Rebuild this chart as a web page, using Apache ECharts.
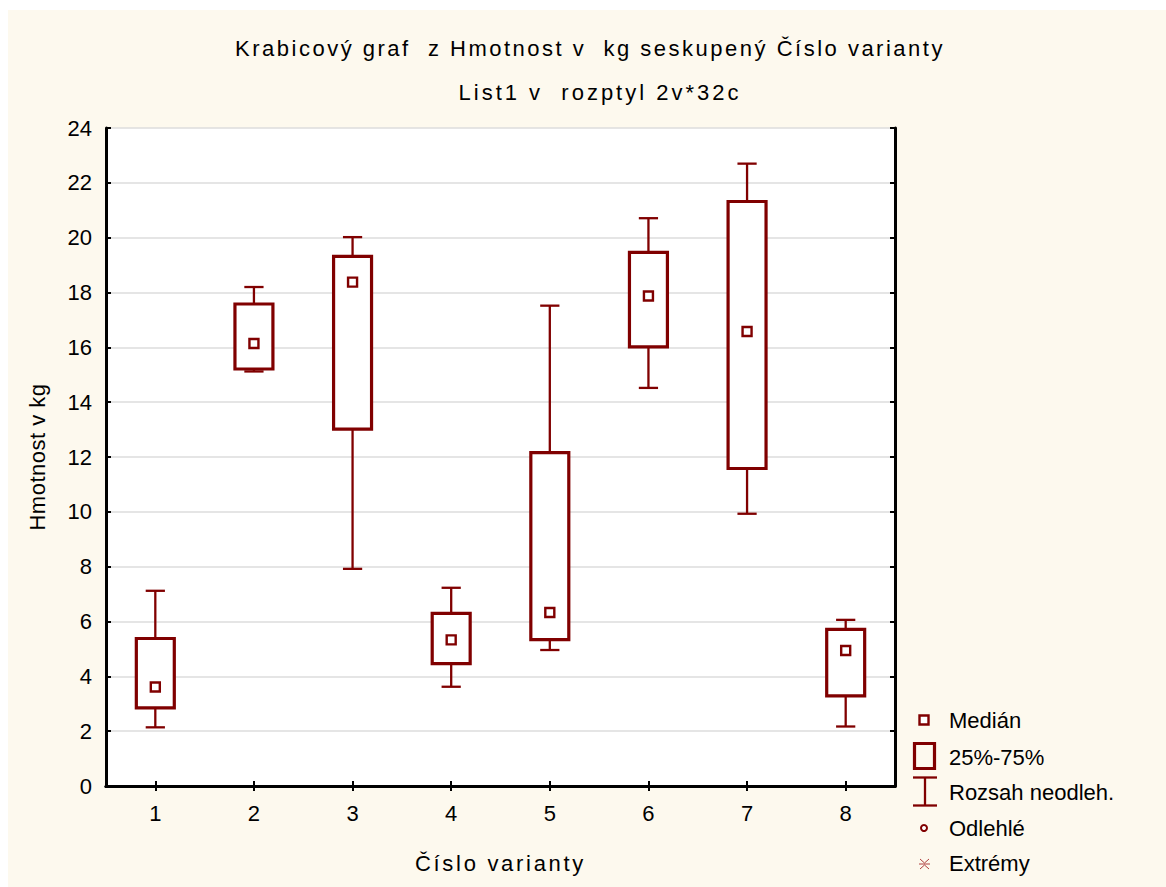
<!DOCTYPE html>
<html>
<head>
<meta charset="utf-8">
<script src="https://cdn.jsdelivr.net/npm/echarts@6/dist/echarts.min.js"></script>
<style>
html,body{margin:0;padding:0;background:#ffffff;}
#chart{width:1166px;height:887px;}
</style>
</head>
<body>
<div id="chart"></div>
<script>
// ---- data ----
const categories = ['1', '2', '3', '4', '5', '6', '7', '8'];
const whiskerMin = [2.14, 15.12, 7.92, 3.62, 4.96, 14.52, 9.93, 2.17];
const quartile1 = [2.85, 15.21, 13.02, 4.46, 5.34, 16.02, 11.58, 3.29];
const medians   = [3.61, 16.14, 18.38, 5.33, 6.33, 17.87, 16.58, 4.94];
const quartile3 = [5.38, 17.58, 19.32, 6.30, 12.16, 19.46, 21.32, 5.71];
const whiskerMax = [7.12, 18.20, 20.02, 7.23, 17.52, 20.71, 22.70, 6.06];
const yTicks = [0, 2, 4, 6, 8, 10, 12, 14, 16, 18, 20, 22, 24];
const titleText = 'Krabicový graf  z Hmotnost v  kg seskupený Číslo varianty';
const subtitleText = 'List1 v  rozptyl 2v*32c';
const xName = 'Číslo varianty';
const yName = 'Hmotnost v kg';
const legendNames = ['Medián', '25%-75%', 'Rozsah neodleh.', 'Odlehlé', 'Extrémy'];

const RED = '#800000';
const FONT = 'Liberation Sans, Arial, sans-serif';

const boxData = categories.map((c, i) => [i, whiskerMin[i], quartile1[i], medians[i], quartile3[i], whiskerMax[i]]);

function renderBox(params, api) {
  const idx = api.value(0);
  const x = api.coord([idx, 0])[0];
  const band = api.size([1, 0])[0];
  const bw = band * 0.385;
  const cw = band * 0.195;
  const yMin = api.coord([idx, api.value(1)])[1];
  const yQ1 = api.coord([idx, api.value(2)])[1];
  const yMed = api.coord([idx, api.value(3)])[1];
  const yQ3 = api.coord([idx, api.value(4)])[1];
  const yMax = api.coord([idx, api.value(5)])[1];
  const lw = {stroke: RED, lineWidth: 2.3, fill: null};
  const sq = 9;
  return {
    type: 'group',
    children: [
      {type: 'line', shape: {x1: x, y1: yMax, x2: x, y2: yQ3}, style: lw},
      {type: 'line', shape: {x1: x, y1: yQ1, x2: x, y2: yMin}, style: lw},
      {type: 'line', shape: {x1: x - cw / 2, y1: yMax, x2: x + cw / 2, y2: yMax}, style: lw},
      {type: 'line', shape: {x1: x - cw / 2, y1: yMin, x2: x + cw / 2, y2: yMin}, style: lw},
      {type: 'rect', shape: {x: x - bw / 2, y: yQ3, width: bw, height: yQ1 - yQ3}, style: {stroke: RED, lineWidth: 3.2, fill: '#ffffff'}},
      {type: 'rect', shape: {x: x - sq / 2, y: yMed - sq / 2, width: sq, height: sq}, style: {stroke: RED, lineWidth: 2.4, fill: '#ffffff'}}
    ]
  };
}

const chart = echarts.init(document.getElementById('chart'), null, {renderer: 'svg'});

const legendX = 924, legendTextX = 949;
const legendY = [720, 757, 792, 828, 863];
const textStyle = (t, x, y, size, align) => ({
  type: 'text', x: x, y: y, z: 10,
  style: {text: t, fill: '#000', font: size + 'px ' + FONT, textAlign: align || 'left', textVerticalAlign: 'middle'}
});

const graphics = [
  {type: 'rect', shape: {x: 8, y: 10, width: 1158, height: 877}, style: {fill: '#fdf9ee'}, z: -10, silent: true},
  textStyle(titleText, 590, 48, 22, 'center'),
  textStyle(subtitleText, 600, 92, 22, 'center'),
  {type: 'rect', shape: {x: legendX - 4.5, y: legendY[0] - 4.5, width: 9, height: 9}, style: {stroke: RED, lineWidth: 2.4, fill: '#fff'}, z: 10},
  {type: 'rect', shape: {x: 914.5, y: 743.5, width: 20, height: 25}, style: {stroke: RED, lineWidth: 3.2, fill: 'transparent'}, z: 10},
  {type: 'line', shape: {x1: 925, y1: 777.5, x2: 925, y2: 805.5}, style: {stroke: RED, lineWidth: 2.3}, z: 10},
  {type: 'line', shape: {x1: 913, y1: 777.5, x2: 937, y2: 777.5}, style: {stroke: RED, lineWidth: 2.3}, z: 10},
  {type: 'line', shape: {x1: 913, y1: 805.5, x2: 937, y2: 805.5}, style: {stroke: RED, lineWidth: 2.3}, z: 10},
  {type: 'circle', shape: {cx: legendX, cy: legendY[3], r: 3}, style: {stroke: RED, lineWidth: 2, fill: '#fff'}, z: 10},
  {type: 'line', shape: {x1: 919, y1: 864, x2: 930, y2: 864}, style: {stroke: '#b04040', lineWidth: 1}, z: 10},
  {type: 'line', shape: {x1: 920, y1: 859, x2: 924.5, y2: 863}, style: {stroke: '#b04040', lineWidth: 1}, z: 10},
  {type: 'line', shape: {x1: 929, y1: 859, x2: 924.5, y2: 863}, style: {stroke: '#b04040', lineWidth: 1}, z: 10},
  {type: 'line', shape: {x1: 920, y1: 869, x2: 924.5, y2: 865}, style: {stroke: '#b04040', lineWidth: 1}, z: 10},
  {type: 'line', shape: {x1: 929, y1: 869, x2: 924.5, y2: 865}, style: {stroke: '#b04040', lineWidth: 1}, z: 10}
];
legendNames.forEach((n, i) => graphics.push(textStyle(n, legendTextX, legendY[i], 22, 'left')));

const axisLineStyle = {show: true, lineStyle: {color: '#000', width: 3}};

chart.setOption({
  backgroundColor: '#ffffff',
  animation: false,
  grid: {left: 106, top: 128, right: 271, bottom: 101, show: true, backgroundColor: '#ffffff', borderWidth: 0},
  xAxis: [
    {
      type: 'category', data: categories, position: 'bottom',
      axisLine: axisLineStyle,
      axisTick: {show: true, inside: true, alignWithLabel: true, length: 5, lineStyle: {color: '#000', width: 2}},
      axisLabel: {color: '#000', fontSize: 22, fontFamily: FONT, margin: 16},
      name: xName, nameLocation: 'middle', nameGap: 66,
      nameTextStyle: {color: '#000', fontSize: 22, fontFamily: FONT},
      splitLine: {show: false}
    },
    {
      type: 'category', data: categories, position: 'top',
      axisLine: axisLineStyle,
      axisTick: {show: true, inside: true, alignWithLabel: true, length: 5, lineStyle: {color: '#000', width: 2}},
      axisLabel: {show: false}, splitLine: {show: false}
    }
  ],
  yAxis: [
    {
      type: 'value', min: 0, max: 24, interval: 2, position: 'left',
      axisLine: axisLineStyle,
      axisTick: {show: true, inside: true, length: 5, lineStyle: {color: '#000', width: 2}},
      axisLabel: {color: '#000', fontSize: 22, fontFamily: FONT, margin: 14,
        formatter: v => (yTicks.indexOf(v) >= 0 ? String(v) : '')},
      splitLine: {show: true, lineStyle: {color: '#dcdcdc', width: 1.5}},
      name: yName, nameLocation: 'middle', nameGap: 58, nameRotate: 90,
      nameTextStyle: {color: '#000', fontSize: 22, fontFamily: FONT}
    },
    {
      type: 'value', min: 0, max: 24, interval: 2, position: 'right',
      axisLine: axisLineStyle,
      axisTick: {show: true, inside: true, length: 5, lineStyle: {color: '#000', width: 2}},
      axisLabel: {show: false}, splitLine: {show: false}
    }
  ],
  graphic: graphics,
  series: [
    {
      type: 'custom', name: 'box', xAxisIndex: 0, yAxisIndex: 0,
      renderItem: renderBox, data: boxData,
      encode: {x: 0, y: [1, 2, 3, 4, 5]}, z: 5, clip: false
    }
  ]
});

// widen the letter spacing of the title texts like the reference rendering
const spacing = {};
spacing[titleText] = 2.5;
spacing[subtitleText] = 3;
spacing[xName] = 2.7;
spacing[yName] = 0.5;
function applySpacing() {
  document.querySelectorAll('#chart svg text').forEach(t => {
    const s = spacing[t.textContent];
    if (s !== undefined) t.setAttribute('letter-spacing', s);
  });
}
chart.on('finished', applySpacing);
applySpacing();
setTimeout(applySpacing, 50);
</script>
</body>
</html>
